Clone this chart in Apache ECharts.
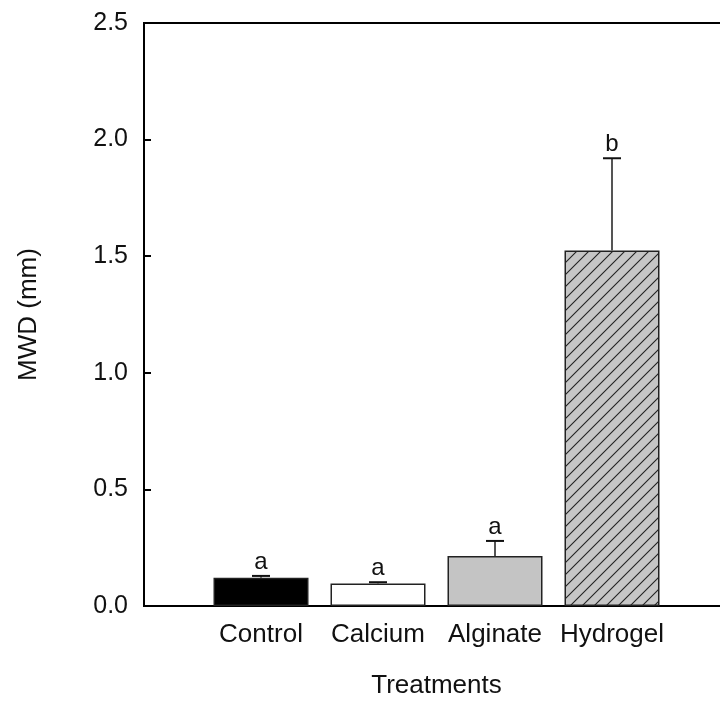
<!DOCTYPE html>
<html>
<head>
<meta charset="utf-8">
<script src="https://cdn.jsdelivr.net/npm/echarts@6/dist/echarts.min.js"></script>
<style>
  html, body { margin: 0; padding: 0; background: #fff; }
  #Bar { width: 720px; height: 703px; }
</style>
</head>
<body>
<div id="Bar"></div>
<script>
// data
const categories = ['', 'Control', 'Calcium', 'Alginate', 'Hydrogel', '']
const means = [null, 0.121, 0.097, 0.214, 1.524, null]
const errUp = [null, 0.008, 0.005, 0.065, 0.396, null]
const letters = ['', 'a', 'a', 'a', 'b', '']
const yTicks = [0, 0.5, 1.0, 1.5, 2.0, 2.5]

const FONT = 'Liberation Sans'
const INK = '#111'

// hatch for the hydrogel bar
function hatch() {
  const s = 12
  const c = document.createElement('canvas')
  c.width = s
  c.height = s
  const ctx = c.getContext('2d')
  ctx.fillStyle = '#c6c6c6'
  ctx.fillRect(0, 0, s, s)
  ctx.strokeStyle = '#222'
  ctx.lineWidth = 1.1
  ctx.beginPath()
  ctx.moveTo(-1, s + 1); ctx.lineTo(s + 1, -1)
  ctx.moveTo(-1, 1); ctx.lineTo(1, -1)
  ctx.moveTo(s - 1, s + 1); ctx.lineTo(s + 1, s - 1)
  ctx.stroke()
  return c
}

const fills = [null, '#000', '#fff', '#c4c4c4', { image: hatch(), repeat: 'repeat' }]

const barData = means.map((v, i) => v == null ? '-' : {
  value: v,
  itemStyle: { color: fills[i], borderColor: '#222', borderWidth: 1.5 }
})
const errData = []
means.forEach((v, i) => {
  if (v != null) errData.push([i, v, v + errUp[i], letters[i]])
})

const Bar = echarts.init(document.getElementById('Bar'))
Bar.setOption({
  animation: false,
  grid: {
    left: 144, top: 23, right: -9, bottom: 97,
    outerBoundsMode: 'none',
    containLabel: false,
    show: true, borderColor: '#000', borderWidth: 2
  },
  xAxis: {
    type: 'category',
    data: categories,
    boundaryGap: false,
    name: 'Treatments',
    nameLocation: 'middle',
    nameGap: 67,
    nameTextStyle: { fontFamily: FONT, fontSize: 26, color: INK },
    axisLine: { lineStyle: { color: '#000', width: 2 } },
    axisTick: { show: false },
    axisLabel: { interval: 0, margin: 16, fontFamily: FONT, fontSize: 26, color: INK },
    splitLine: { show: false }
  },
  yAxis: {
    type: 'value',
    min: yTicks[0],
    max: yTicks[yTicks.length - 1],
    interval: 0.5,
    name: 'MWD (mm)',
    nameLocation: 'middle',
    nameGap: 102,
    nameTextStyle: { fontFamily: FONT, fontSize: 26, color: INK },
    axisLine: { show: true, lineStyle: { color: '#000', width: 2 } },
    axisTick: { show: true, inside: true, length: 7, lineStyle: { color: '#000', width: 2 } },
    axisLabel: {
      margin: 16, fontFamily: FONT, fontSize: 25, color: INK,
      formatter: v => v.toFixed(1)
    },
    splitLine: { show: false }
  },
  series: [
    {
      type: 'bar',
      barWidth: 95,
      data: barData
    },
    {
      type: 'custom',
      z: 5,
      data: errData,
      renderItem: function(params, api) {
        const base = api.coord([api.value(0), api.value(1)])
        const top = api.coord([api.value(0), api.value(2)])
        const half = 9
        return {
          type: 'group',
          children: [
            { type: 'line', shape: { x1: base[0], y1: base[1], x2: top[0], y2: top[1] },
              style: { stroke: '#555', lineWidth: 2 } },
            { type: 'line', shape: { x1: top[0] - half, y1: top[1], x2: top[0] + half, y2: top[1] },
              style: { stroke: '#111', lineWidth: 2 } },
            { type: 'text',
              style: { text: api.value(3), x: top[0], y: top[1] - 2,
                align: 'center', verticalAlign: 'bottom',
                font: '24px ' + FONT, fill: INK } }
          ]
        }
      }
    }
  ]
})
window.addEventListener('resize', () => Bar.resize())
</script>
</body>
</html>
